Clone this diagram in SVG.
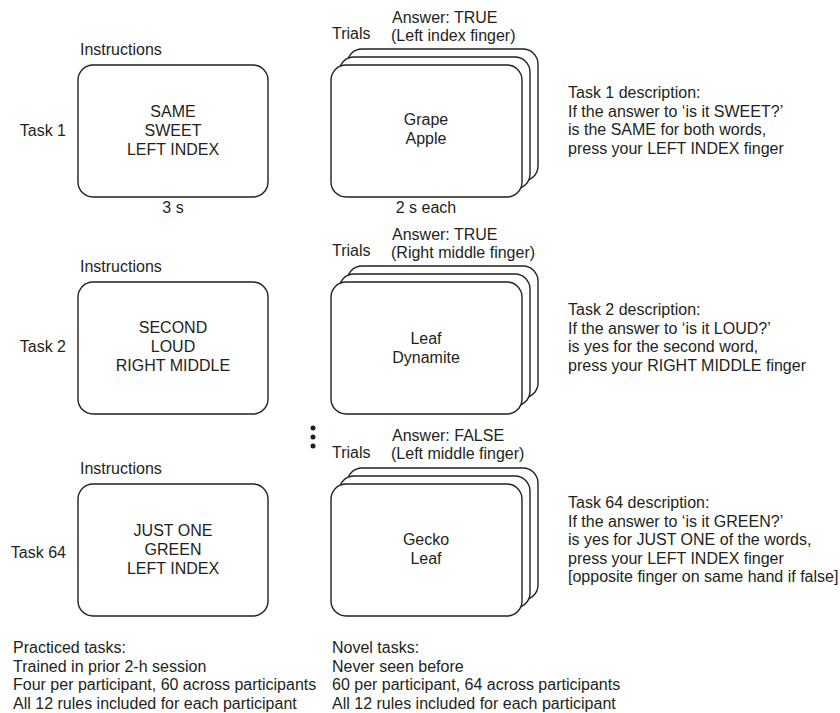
<svg xmlns="http://www.w3.org/2000/svg" width="840" height="713" viewBox="0 0 840 713">
<style>
text{font-family:"Liberation Sans",Arial,Helvetica,sans-serif;font-size:16px;fill:#231f20}
.c{text-anchor:middle}
.e{text-anchor:end}
.box{fill:#fff;stroke:#231f20;stroke-width:1.4}
</style>
<defs>
<rect id="card" width="191" height="132" rx="15" ry="15" class="box"/>
</defs>
<rect width="840" height="713" fill="#fff"/>

<g id="task1">
<text x="66" y="136" class="e">Task 1</text>
<text x="80" y="55">Instructions</text>
<rect x="78" y="65" width="190" height="132" rx="15" class="box"/>
<text x="173" y="117" class="c">SAME</text>
<text x="173" y="136" class="c">SWEET</text>
<text x="173" y="155" class="c">LEFT INDEX</text>
<text x="173" y="213" class="c">3 s</text>
</g>
<g id="trials1">
<text x="332" y="39">Trials</text>
<text x="392" y="23">Answer: TRUE</text>
<text x="391" y="41">(Left index finger)</text>
<use href="#card" x="347" y="49"/>
<use href="#card" x="339" y="57"/>
<use href="#card" x="331" y="65"/>
<text x="426" y="125" class="c">Grape</text>
<text x="426" y="144" class="c">Apple</text>
<text x="426" y="213" class="c">2 s each</text>
</g>
<g id="desc1">
<text x="568" y="98">Task 1 description:</text>
<text x="568" y="116.5">If the answer to ‘is it SWEET?’</text>
<text x="568" y="135">is the SAME for both words,</text>
<text x="568" y="153.5">press your LEFT INDEX finger</text>
</g>

<g id="task2">
<text x="66" y="352" class="e">Task 2</text>
<text x="80" y="272">Instructions</text>
<rect x="78" y="282" width="190" height="132" rx="15" class="box"/>
<text x="173" y="333" class="c">SECOND</text>
<text x="173" y="352" class="c">LOUD</text>
<text x="173" y="371" class="c">RIGHT MIDDLE</text>
</g>
<g id="trials2">
<text x="332" y="256">Trials</text>
<text x="392" y="240">Answer: TRUE</text>
<text x="391" y="258">(Right middle finger)</text>
<use href="#card" x="347" y="266"/>
<use href="#card" x="339" y="274"/>
<use href="#card" x="331" y="282"/>
<text x="426" y="344" class="c">Leaf</text>
<text x="426" y="363" class="c">Dynamite</text>
</g>
<g id="desc2">
<text x="568" y="315">Task 2 description:</text>
<text x="568" y="333.5">If the answer to ‘is it LOUD?’</text>
<text x="568" y="352">is yes for the second word,</text>
<text x="568" y="370.5">press your RIGHT MIDDLE finger</text>
</g>

<g id="ellipsis" fill="#231f20">
<circle cx="313" cy="428" r="2.5"/>
<circle cx="313" cy="437" r="2.5"/>
<circle cx="313" cy="446" r="2.5"/>
</g>

<g id="task64">
<text x="66" y="558" class="e">Task 64</text>
<text x="80" y="474">Instructions</text>
<rect x="78" y="484" width="190" height="132" rx="15" class="box"/>
<text x="173" y="536" class="c">JUST ONE</text>
<text x="173" y="555" class="c">GREEN</text>
<text x="173" y="574" class="c">LEFT INDEX</text>
</g>
<g id="trials64">
<text x="332" y="458">Trials</text>
<text x="392" y="441">Answer: FALSE</text>
<text x="391" y="459">(Left middle finger)</text>
<use href="#card" x="347" y="468"/>
<use href="#card" x="339" y="476"/>
<use href="#card" x="331" y="484"/>
<text x="426" y="545" class="c">Gecko</text>
<text x="426" y="564" class="c">Leaf</text>
</g>
<g id="desc64">
<text x="568" y="508">Task 64 description:</text>
<text x="568" y="526.5">If the answer to ‘is it GREEN?’</text>
<text x="568" y="545">is yes for JUST ONE of the words,</text>
<text x="568" y="563.5">press your LEFT INDEX finger</text>
<text x="568" y="582">[opposite finger on same hand if false]</text>
</g>

<g id="practiced">
<text x="13" y="653">Practiced tasks:</text>
<text x="13" y="671.5">Trained in prior 2-h session</text>
<text x="13" y="690">Four per participant, 60 across participants</text>
<text x="13" y="708.5">All 12 rules included for each participant</text>
</g>
<g id="novel">
<text x="332" y="653">Novel tasks:</text>
<text x="332" y="671.5">Never seen before</text>
<text x="332" y="690">60 per participant, 64 across participants</text>
<text x="332" y="708.5">All 12 rules included for each participant</text>
</g>
<g id="connectors"></g>
</svg>
